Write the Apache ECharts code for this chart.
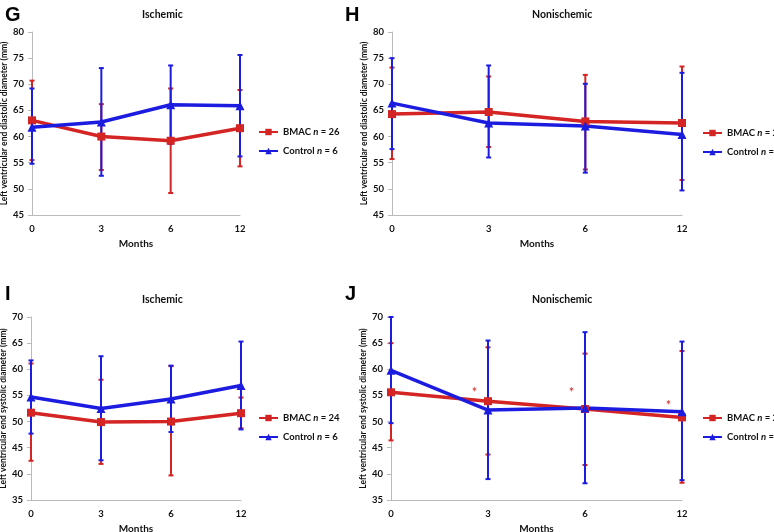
<!DOCTYPE html>
<html>
<head>
<meta charset="utf-8">
<script src="https://cdn.jsdelivr.net/npm/echarts@6/dist/echarts.min.js"></script>
<style>
  body { margin: 0; background: #fff; }
  .panel { position: absolute; }
</style>
</head>
<body>
<div class="panel" id="g" style="left:0;top:0;width:387px;height:266px"></div>
<div class="panel" id="h" style="left:340px;top:0;width:434px;height:266px"></div>
<div class="panel" id="i" style="left:0;top:266px;width:387px;height:266px"></div>
<div class="panel" id="j" style="left:340px;top:266px;width:434px;height:266px"></div>

<script>
const months = ['0', '3', '6', '12'];

// G - ischemic, diastolic
const gBmac = [63.1, 60.0, 59.2, 61.6];
const gBmacLow = [55.5, 53.6, 49.2, 54.3];
const gBmacHigh = [70.7, 66.2, 69.2, 68.9];
const gCtrl = [61.8, 62.8, 66.1, 65.9];
const gCtrlLow = [54.8, 52.5, 58.6, 56.2];
const gCtrlHigh = [69.2, 73.1, 73.6, 75.6];

// H - nonischemic, diastolic
const hBmac = [64.3, 64.7, 62.9, 62.6];
const hBmacLow = [55.7, 58.0, 53.7, 51.7];
const hBmacHigh = [73.2, 71.5, 71.8, 73.4];
const hCtrl = [66.4, 62.6, 62.0, 60.4];
const hCtrlLow = [57.6, 56.0, 53.1, 49.7];
const hCtrlHigh = [75.0, 73.6, 70.1, 72.2];

// I - ischemic, systolic
const iBmac = [51.7, 49.9, 50.0, 51.6];
const iBmacLow = [42.5, 41.9, 39.7, 48.7];
const iBmacHigh = [61.1, 58.0, 60.6, 54.6];
const iCtrl = [54.7, 52.5, 54.3, 56.9];
const iCtrlLow = [47.7, 42.6, 48.0, 48.5];
const iCtrlHigh = [61.7, 62.5, 60.7, 65.3];

// J - nonischemic, systolic
const jBmac = [55.6, 53.9, 52.4, 50.8];
const jBmacLow = [46.4, 43.7, 41.7, 38.3];
const jBmacHigh = [65.0, 64.2, 63.0, 63.5];
const jCtrl = [59.8, 52.2, 52.6, 51.9];
const jCtrlLow = [49.7, 39.0, 38.2, 38.8];
const jCtrlHigh = [70.0, 65.5, 67.1, 65.3];
const jStarX = [0.86, 1.86, 2.86];
const jStarY = [55.5, 55.5, 53.1];

const RED = '#d42424';
const BLUE = '#1c1ce0';
const FONT = 'Lato';

function pts(vals) { return vals.map((v, k) => [k, v]); }
function bars(low, high) { return low.map((v, k) => [k, v, high[k]]); }

function errSeries(name, data, color) {
  return {
    name: name,
    type: 'custom',
    z: 2,
    data: data,
    renderItem: function (params, api) {
      const lo = api.coord([api.value(0), api.value(1)]);
      const hi = api.coord([api.value(0), api.value(2)]);
      const w = 2.5;
      const st = { stroke: color, lineWidth: 2 };
      return {
        type: 'group',
        children: [
          { type: 'line', shape: { x1: lo[0], y1: lo[1], x2: hi[0], y2: hi[1] }, style: st },
          { type: 'line', shape: { x1: lo[0] - w, y1: lo[1], x2: lo[0] + w, y2: lo[1] }, style: st },
          { type: 'line', shape: { x1: hi[0] - w, y1: hi[1], x2: hi[0] + w, y2: hi[1] }, style: st }
        ]
      };
    }
  };
}

function lineSeries(name, data, color, symbol) {
  return {
    name: name,
    type: 'line',
    z: 3,
    data: data,
    symbol: symbol,
    symbolSize: symbol === 'rect' ? 8 : 9,
    lineStyle: { color: color, width: 3.5 },
    itemStyle: { color: color },
    emphasis: { disabled: true }
  };
}

function makeOption(p) {
  const series = [
    errSeries('bmacErr', bars(p.bmacLow, p.bmacHigh), RED),
    errSeries('ctrlErr', bars(p.ctrlLow, p.ctrlHigh), BLUE),
    lineSeries('BMAC', pts(p.bmac), RED, 'rect'),
    lineSeries('Control', pts(p.ctrl), BLUE, 'triangle')
  ];
  if (p.starX) {
    series.push({
      name: 'sig',
      type: 'scatter',
      z: 4,
      symbolSize: 1,
      itemStyle: { opacity: 0 },
      data: p.starX.map((x, k) => [x, p.starY[k]]),
      label: {
        show: true, position: 'inside', formatter: '*',
        color: RED, fontSize: 13, fontFamily: FONT, opacity: 1
      }
    });
  }
  return {
    animation: false,
    title: [
      { text: p.letter, left: 0, top: p.letterTop,
        textStyle: { fontFamily: 'Liberation Sans', fontWeight: 'bold', fontSize: 20, color: '#000' } },
      { text: p.title, left: p.titleLeft, top: p.titleTop,
        textStyle: { fontFamily: FONT, fontWeight: 'bold', fontSize: 10.5, color: '#111' } }
    ],
    legend: {
      data: ['BMAC', 'Control'],
      orient: 'vertical',
      left: p.legendLeft,
      top: p.legendTop,
      padding: 0,
      itemWidth: 19,
      itemHeight: 8,
      itemGap: 9,
      selectedMode: false,
      formatter: function (name) {
        return name === 'BMAC'
          ? '{t|BMAC }{i|n}{t| = ' + p.nBmac + '}'
          : '{t|Control }{i|n}{t| = ' + p.nCtrl + '}';
      },
      textStyle: {
        rich: {
          t: { fontFamily: FONT, fontWeight: 'bold', fontSize: 9.5, color: '#111' },
          i: { fontFamily: FONT, fontWeight: 'bold', fontStyle: 'italic', fontSize: 9.5, color: '#111' }
        }
      }
    },
    grid: {
      left: p.gridLeft, top: p.gridTop, width: p.gridWidth, height: 183,
      containLabel: false, outerBoundsMode: 'none'
    },
    xAxis: {
      type: 'value',
      min: 0, max: 3, interval: 1,
      name: 'Months',
      nameLocation: 'middle',
      nameGap: 24,
      nameTextStyle: { fontFamily: FONT, fontWeight: 'bold', fontSize: 10, color: '#111' },
      axisLine: { lineStyle: { color: '#bbb' } },
      axisTick: { show: false },
      splitLine: { show: false },
      axisLabel: {
        margin: 9,
        formatter: function (v) { return months[v]; },
        fontFamily: FONT, fontWeight: 'bold', fontSize: 9.5, color: '#111'
      }
    },
    yAxis: {
      type: 'value',
      min: p.yMin, max: p.yMax, interval: 5,
      name: p.yName,
      nameLocation: 'middle',
      nameGap: 23,
      nameMoveOverlap: false,
      nameTextStyle: { fontFamily: FONT, fontWeight: 'bold', fontSize: 8.5, color: '#111' },
      axisLine: { show: true, lineStyle: { color: '#bbb' } },
      axisTick: { show: true, length: 4, lineStyle: { color: '#bbb' } },
      splitLine: { show: false },
      axisLabel: { margin: 8, fontFamily: FONT, fontWeight: 'bold', fontSize: 9.5, color: '#111' }
    },
    series: series
  };
}

const diaName = 'Left ventricular end diastolic diameter (mm)';
const sysName = 'Left ventricular end systolic diameter (mm)';

const panels = [
  { id: 'g', letter: 'G', title: 'Ischemic', yName: diaName, yMin: 45, yMax: 80,
    bmac: gBmac, bmacLow: gBmacLow, bmacHigh: gBmacHigh, ctrl: gCtrl, ctrlLow: gCtrlLow, ctrlHigh: gCtrlHigh,
    nBmac: 26, nCtrl: 6, letterTop: 0, titleLeft: 137, titleTop: 4,
    gridLeft: 32, gridTop: 32, gridWidth: 208, legendLeft: 258, legendTop: 127 },
  { id: 'h', letter: 'H', title: 'Nonischemic', yName: diaName, yMin: 45, yMax: 80,
    bmac: hBmac, bmacLow: hBmacLow, bmacHigh: hBmacHigh, ctrl: hCtrl, ctrlLow: hCtrlLow, ctrlHigh: hCtrlHigh,
    nBmac: 24, nCtrl: 6, letterTop: 0, titleLeft: 187, titleTop: 4,
    gridLeft: 52, gridTop: 32, gridWidth: 290, legendLeft: 362, legendTop: 128 },
  { id: 'i', letter: 'I', title: 'Ischemic', yName: sysName, yMin: 35, yMax: 70,
    bmac: iBmac, bmacLow: iBmacLow, bmacHigh: iBmacHigh, ctrl: iCtrl, ctrlLow: iCtrlLow, ctrlHigh: iCtrlHigh,
    nBmac: 24, nCtrl: 6, letterTop: 13, titleLeft: 137, titleTop: 23,
    gridLeft: 31, gridTop: 51, gridWidth: 210, legendLeft: 258, legendTop: 147 },
  { id: 'j', letter: 'J', title: 'Nonischemic', yName: sysName, yMin: 35, yMax: 70,
    bmac: jBmac, bmacLow: jBmacLow, bmacHigh: jBmacHigh, ctrl: jCtrl, ctrlLow: jCtrlLow, ctrlHigh: jCtrlHigh,
    starX: jStarX, starY: jStarY,
    nBmac: 24, nCtrl: 6, letterTop: 13, titleLeft: 187, titleTop: 23,
    gridLeft: 51, gridTop: 51, gridWidth: 291, legendLeft: 362, legendTop: 147 }
];

panels.forEach(p => {
  const chart = echarts.init(document.getElementById(p.id));
  chart.setOption(makeOption(p));
});
</script>
</body>
</html>
